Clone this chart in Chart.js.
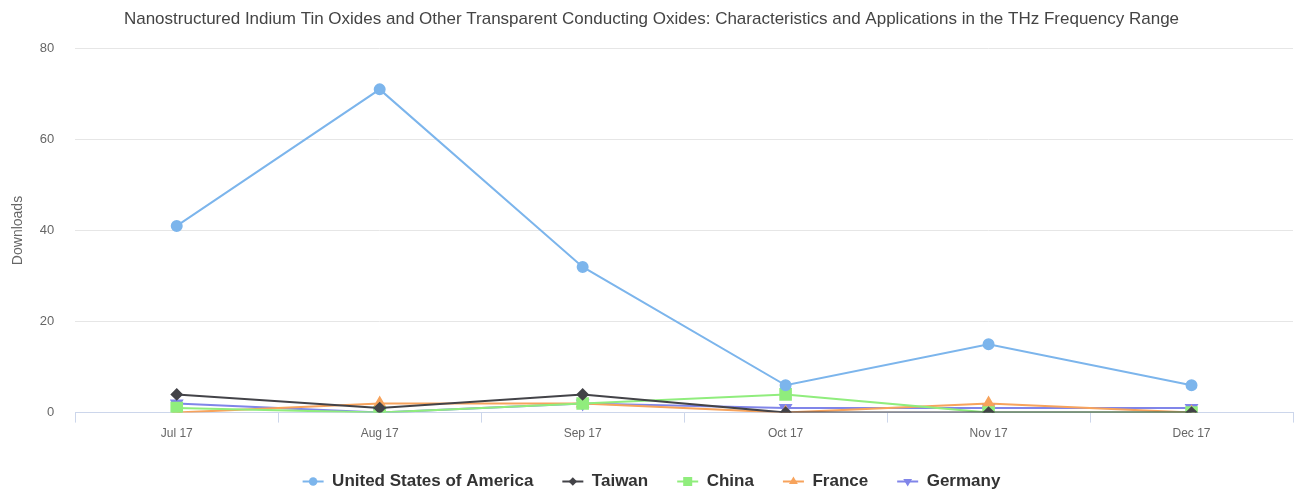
<!DOCTYPE html>
<html>
<head>
<meta charset="utf-8">
<script src="https://cdn.jsdelivr.net/npm/chart.js@4/dist/chart.umd.min.js"></script>
<style>
html,body{margin:0;padding:0;background:#fff;}
#wrap{width:1299px;height:492px;position:relative;}
</style>
</head>
<body>
<div id="wrap"><canvas id="c"></canvas></div>
<script>
const chartTitle = "Nanostructured Indium Tin Oxides and Other Transparent Conducting Oxides: Characteristics and Applications in the THz Frequency Range";
const categories = ["Jul 17", "Aug 17", "Sep 17", "Oct 17", "Nov 17", "Dec 17"];
const usa = [41, 71, 32, 6, 15, 6];
const taiwan = [4, 1, 4, 0, 0, 0];
const china = [1, 0, 2, 4, 0, 0];
const france = [0, 2, 2, 0, 2, 0];
const germany = [2, 0, 2, 1, 1, 1];
const yTicks = [0, 20, 40, 60, 80];

const FONT = 'Liberation Sans, Arial, Helvetica, sans-serif';
const LEG_BOX = 21;

function ds(label, data, color, style, radius, rotation) {
  return {
    label, data,
    borderColor: color, backgroundColor: color,
    pointBackgroundColor: color, pointBorderColor: color,
    pointStyle: style, pointRadius: radius, pointHoverRadius: radius,
    pointRotation: rotation || 0,
    borderWidth: 2, tension: 0
  };
}

const legendLine = {
  id: 'legendLine',
  afterDraw(chart) {
    const lg = chart.legend;
    if (!lg || !lg.legendHitBoxes) return;
    const ctx = chart.ctx;
    lg.legendHitBoxes.forEach((b, i) => {
      const d = chart.data.datasets[i];
      const cy = b.top + b.height / 2;
      ctx.save();
      ctx.strokeStyle = d.borderColor;
      ctx.lineWidth = 2;
      ctx.beginPath();
      ctx.moveTo(b.left, cy);
      ctx.lineTo(b.left + LEG_BOX, cy);
      ctx.stroke();
      ctx.fillStyle = d.borderColor;
      Chart.helpers.drawPoint(ctx, {
        pointStyle: d.pointStyle, rotation: d.pointRotation, radius: d.pointRadius * 0.85, borderWidth: 0
      }, b.left + LEG_BOX / 2, cy);
      ctx.restore();
    });
  }
};

new Chart(document.getElementById('c'), {
  type: 'line',
  data: {
    labels: categories,
    datasets: [
      ds('United States of America', usa, '#7cb5ec', 'circle', 5),
      ds('Taiwan', taiwan, '#434348', 'rectRot', 5),
      ds('China', china, '#90ed7d', 'rect', 7.5),
      ds('France', france, '#f7a35c', 'triangle', 6),
      ds('Germany', germany, '#8085e9', 'triangle', 6, 180)
    ]
  },
  options: {
    responsive: true,
    maintainAspectRatio: false,
    animation: false,
    layout: { autoPadding: false, padding: { left: 10, right: 6, top: 0, bottom: -8 } },
    plugins: {
      title: {
        display: true, text: chartTitle, color: '#444444',
        font: { family: FONT, size: 17, weight: 'normal' },
        padding: { top: 9, bottom: 19 }
      },
      legend: {
        position: 'bottom',
        labels: {
          boxWidth: LEG_BOX, boxHeight: 10,
          generateLabels(chart) {
            return chart.data.datasets.map((d, i) => ({
              text: d.label, fillStyle: 'rgba(0,0,0,0)', strokeStyle: 'rgba(0,0,0,0)',
              lineWidth: 0, hidden: false, datasetIndex: i, fontColor: '#333333'
            }));
          },
          color: '#333333', padding: 29,
          font: { family: FONT, size: 17, weight: 'bold' }
        }
      },
      tooltip: { enabled: false }
    },
    scales: {
      x: {
        offset: true,
        afterFit(scale) { scale.height -= 1; },
        grid: { offset: true, drawOnChartArea: false, drawTicks: true, tickLength: 10, color: '#ccd6eb' },
        border: { color: '#ccd6eb' },
        ticks: { color: '#666666', font: { family: FONT, size: 12 }, padding: 4 }
      },
      y: {
        min: 0, max: 80,
        afterBuildTicks(axis) { axis.ticks = yTicks.map(v => ({ value: v })); },
        grid: { color: '#e6e6e6', drawTicks: false },
        border: { display: false },
        ticks: { color: '#666666', font: { family: FONT, size: 13 }, padding: 21 },
        title: { display: true, text: 'Downloads', color: '#666666', font: { family: FONT, size: 14 }, padding: { top: 0, bottom: -8 } }
      }
    }
  },
  plugins: [legendLine]
});
</script>
</body>
</html>
